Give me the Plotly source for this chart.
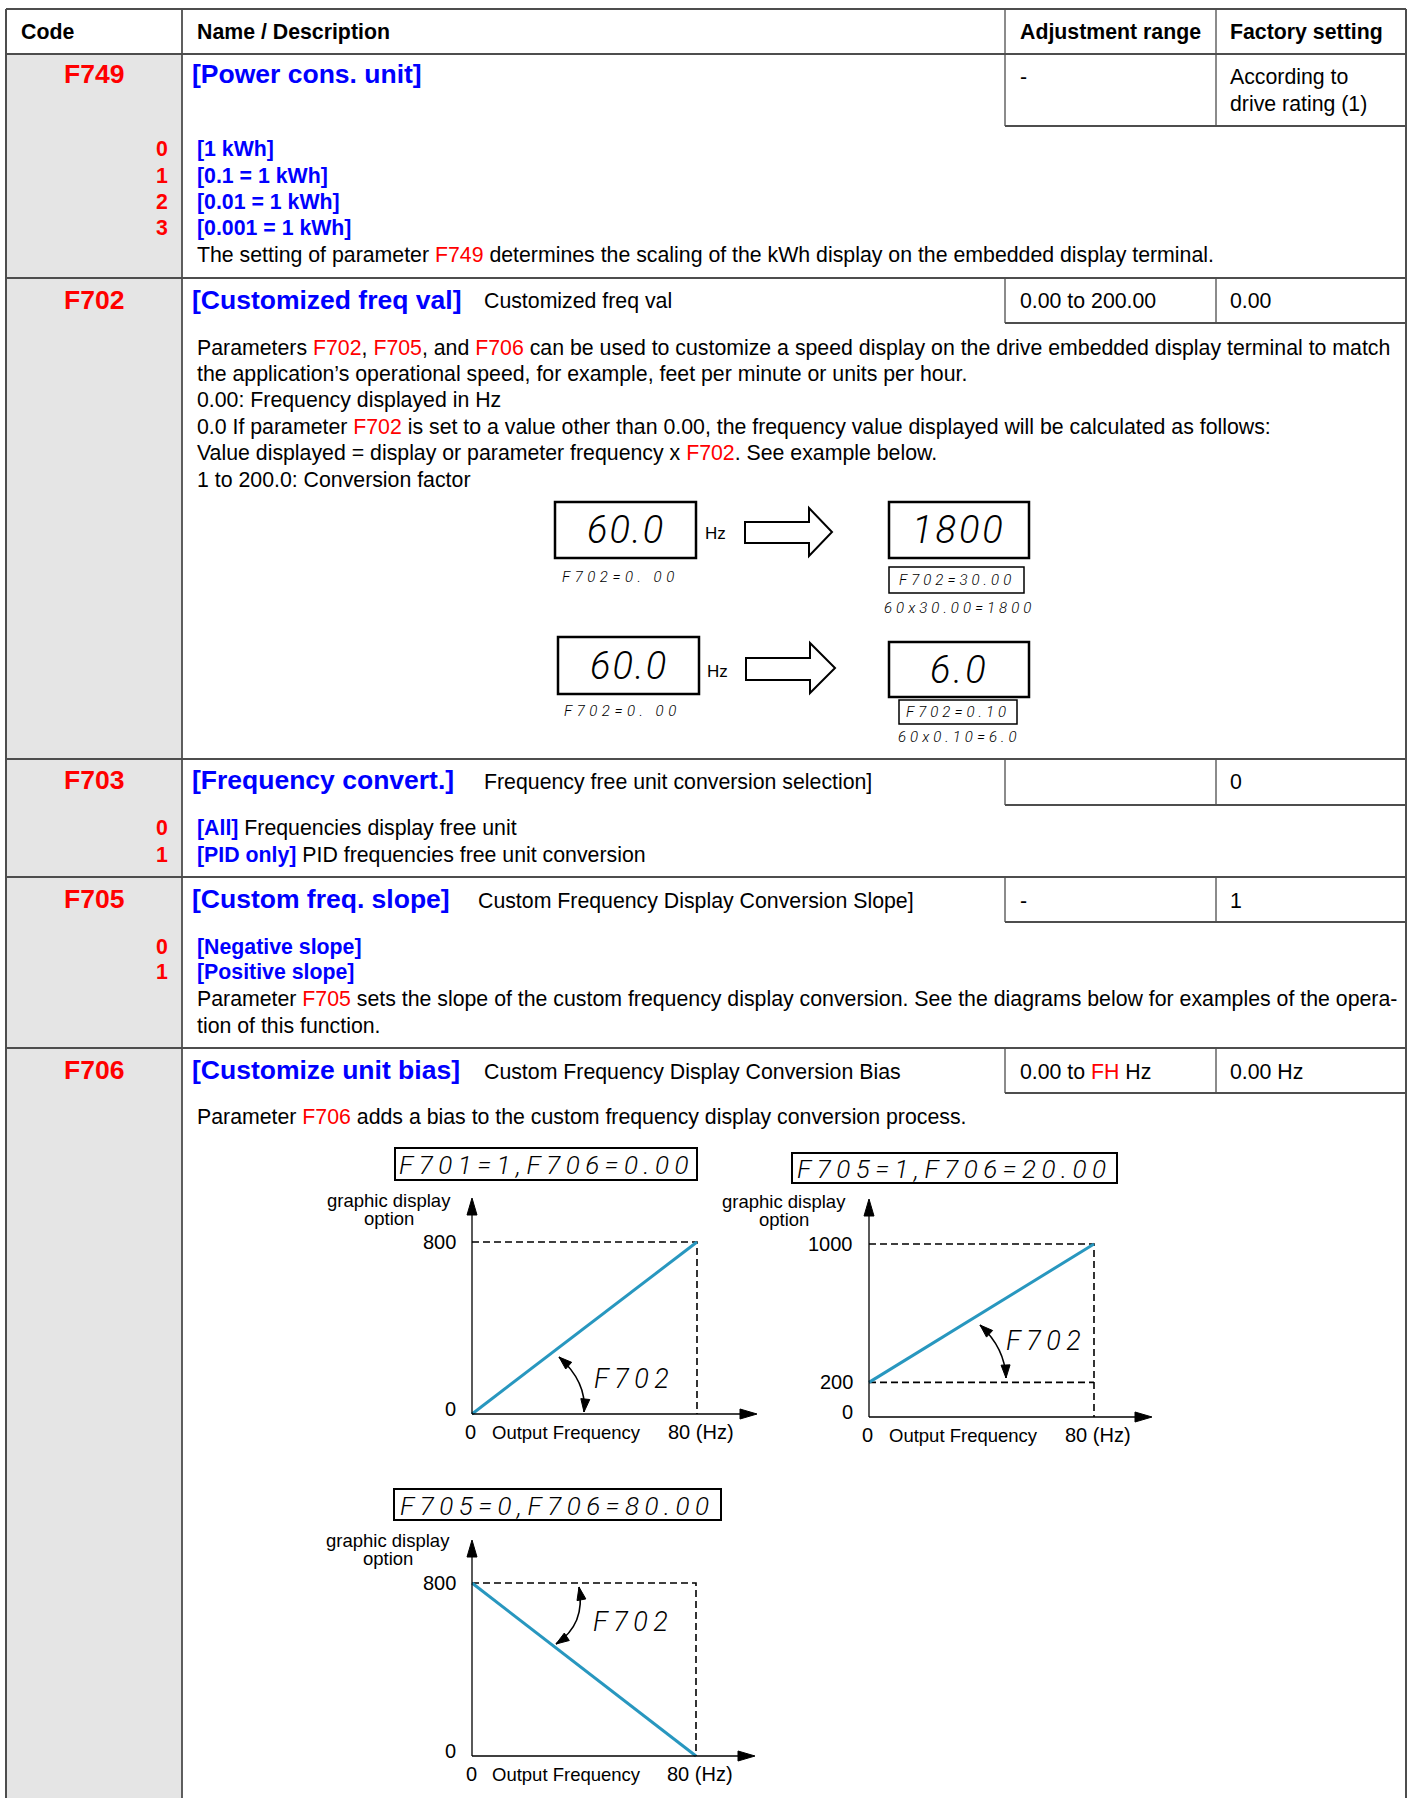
import math
import plotly.graph_objects as go

W, H = 1410, 1798
FONT = "Liberation Sans, Arial, sans-serif"
SEG = "Roboto, DejaVu Sans, sans-serif"
RED = "#ff0000"
BLUE = "#0000ff"
TEAL = "#2897bf"
GRID = "#4d4d4d"
GRAY = "#e5e5e5"
BODY = 21.3

# ---------------- data ----------------
header_labels = ["Code", "Name / Description", "Adjustment range", "Factory setting"]
codes = ["F749", "F702", "F703", "F705", "F706"]
names = ["[Power cons. unit]", "[Customized freq val]", "[Frequency convert.]",
         "[Custom freq. slope]", "[Customize unit bias]"]
subtitles = ["", "Customized freq val", "Frequency free unit conversion selection]",
             "Custom Frequency Display Conversion Slope]", "Custom Frequency Display Conversion Bias"]
adj_ranges = ["-", "0.00 to 200.00", "", "-", "0.00 to {FH} Hz"]
factory_settings = [["According to", "drive rating (1)"], ["0.00"], ["0"], ["1"], ["0.00 Hz"]]

f749_values = ["0", "1", "2", "3"]
f749_labels = ["[1 kWh]", "[0.1 = 1 kWh]", "[0.01 = 1 kWh]", "[0.001 = 1 kWh]"]
f703_values = ["0", "1"]
f703_labels = ["[All]", "[PID only]"]
f703_desc = [" Frequencies display free unit", " PID frequencies free unit conversion"]
f705_values = ["0", "1"]
f705_labels = ["[Negative slope]", "[Positive slope]"]

# display examples (F702)
display_input = ["60.0", "60.0"]
display_factor = ["30.00", "0.10"]
display_result = ["1800", "6.0"]
display_calc = ["60x30.00=1800", "60x0.10=6.0"]

# conversion charts (F705 / F706)
output_freq = [0, 80]
display_a = [0, 800]
display_b = [200, 1000]
display_c = [800, 0]
chart_titles = ["F701=1,F706=0.00", "F705=1,F706=20.00", "F705=0,F706=80.00"]
ytick_a = [0, 800]
ytick_b = [0, 200, 1000]
ytick_c = [0, 800]

# ---------------- helpers ----------------
ann = []
shapes = []


def red(s):
    return f'<span style="color:{RED}">{s}</span>'


def blue(s):
    return f'<span style="color:{BLUE}"><b>{s}</b></span>'


def T(x, y, s, size=BODY, color="black", anchor="left", bold=False, family=FONT,
      weight=None, style=None, xref="x", yref="y", xshift=0, yshift=0, yanchor="middle"):
    if bold:
        s = f"<b>{s}</b>"
    f = dict(family=family, size=size, color=color)
    if weight is not None:
        f["weight"] = weight
    if style is not None:
        f["style"] = style
    ann.append(dict(x=x, y=y, xref=xref, yref=yref, text=s, showarrow=False,
                    xanchor=anchor, yanchor=yanchor, font=f, borderpad=0,
                    xshift=xshift, yshift=yshift))


def SEGT(x, y, s, size, spacing, anchor="center", **kw):
    txt = f'<span style="letter-spacing:{spacing}px">{s}</span>'
    T(x, y, txt, size=size, family=SEG, anchor=anchor, weight=300, style="italic", **kw)


def L(x0, y0, x1, y1, w=1.5, c=GRID):
    shapes.append(dict(type="line", x0=x0, y0=y0, x1=x1, y1=y1, xref="x", yref="y",
                       line=dict(color=c, width=w)))


def R(x0, y0, x1, y1, w=2, c="black", fill=None, layer="above"):
    d = dict(type="rect", x0=x0, y0=y0, x1=x1, y1=y1, xref="x", yref="y",
             line=dict(color=c, width=w), layer=layer)
    if fill:
        d["fillcolor"] = fill
    shapes.append(d)


def P(path, fill="black", w=1.5, c="black"):
    shapes.append(dict(type="path", path=path, xref="x", yref="y",
                       fillcolor=fill, line=dict(color=c, width=w)))


def head(tx, ty, dx, dy, length=13, half=4.5):
    n = math.hypot(dx, dy)
    ux, uy = dx / n, dy / n
    bx, by = tx - ux * length, ty - uy * length
    px, py = -uy * half, ux * half
    P(f"M{tx},{ty} L{bx+px},{by+py} L{bx-px},{by-py} Z", fill="black", w=1)


def curved(p0, c, p2):
    shapes.append(dict(type="path", xref="x", yref="y",
                       path=f"M{p0[0]},{p0[1]} Q{c[0]},{c[1]} {p2[0]},{p2[1]}",
                       line=dict(color="black", width=1.6)))
    head(p0[0], p0[1], p0[0] - c[0], p0[1] - c[1])
    head(p2[0], p2[1], p2[0] - c[0], p2[1] - c[1])


# ---------------- table ----------------
R(7, 54, 182, 1798, w=0, c=GRAY, fill=GRAY, layer="below")
row_top = [54, 278, 759, 877, 1048]
sub_bottom = [126, 323, 805, 922, 1093]
L(6, 9, 1406, 9, w=2)
for y in row_top:
    L(6, y, 1406, y, w=2.2)
L(6, 9, 6, 1798, w=2)
L(1406, 9, 1406, 1798, w=2)
L(182, 9, 182, 1798, w=1.8)
for x in (1005, 1216):
    L(x, 9, x, 54, w=1.3)
    for t, b in zip(row_top, sub_bottom):
        L(x, t, x, b, w=1.3)
for b in sub_bottom:
    L(1005, b, 1406, b, w=1.8)

for x, s in zip([20, 196, 1019, 1229], header_labels):
    T(x, 32, s, bold=True)

title_y = [74, 300, 780, 899, 1070]
val_y = [77, 301, 782, 901, 1072]
sub_x = [483, 483, 483, 477, 483]
for i in range(5):
    T(94, title_y[i], codes[i], size=26.5, color=RED, bold=True, anchor="center")
    T(191, title_y[i], names[i], size=26.5, color=BLUE, bold=True)
    if subtitles[i]:
        T(sub_x[i], val_y[i], subtitles[i])
    if adj_ranges[i]:
        T(1019, val_y[i], adj_ranges[i].replace("{FH}", red("FH")))
    for k, s in enumerate(factory_settings[i]):
        T(1229, val_y[i] + 27 * k, s)

# F749 items
for y, v, s in zip([149, 176, 202, 228], f749_values, f749_labels):
    T(169, y, v, color=RED, bold=True, anchor="right")
    T(196, y, blue(s))
T(196, 255, f"The setting of parameter {red('F749')} determines the scaling of the kWh display on the embedded display terminal.")

# F702 paragraph
f702_lines = [
    f"Parameters {red('F702')}, {red('F705')}, and {red('F706')} can be used to customize a speed display on the drive embedded display terminal to match",
    "the application’s operational speed, for example, feet per minute or units per hour.",
    "0.00: Frequency displayed in Hz",
    f"0.0 If parameter {red('F702')} is set to a value other than 0.00, the frequency value displayed will be calculated as follows:",
    f"Value displayed = display or parameter frequency x {red('F702')}. See example below.",
    "1 to 200.0: Conversion factor",
]
for y, s in zip([348, 374, 400, 427, 453, 480], f702_lines):
    T(196, y, s)

# F702 display examples
big_boxes = [((555, 502, 696, 558), (889, 502, 1029, 558)),
             ((558, 637, 699, 694), (889, 642, 1029, 697))]
arrow_paths = ["M745,522 L809,522 L809,508 L832,532 L809,556 L809,543 L745,543 Z",
               "M746,658 L810,658 L810,643 L835,668 L810,693 L810,680 L746,680 Z"]
hz_pos = [(704, 533), (706, 671)]
zero_lbl = [(620, 577), (622, 711)]
fac_box = [(889, 567, 1024, 593), (899, 700, 1017, 724)]
calc_y = [608, 737]
for k in range(2):
    (a, b) = big_boxes[k]
    R(*a, w=2.5)
    R(*b, w=2.5)
    SEGT((a[0] + a[2]) / 2, (a[1] + a[3]) / 2, display_input[k], 38, 2)
    SEGT((b[0] + b[2]) / 2, (b[1] + b[3]) / 2, display_result[k], 38, 3)
    P(arrow_paths[k], fill="white", w=2)
    T(hz_pos[k][0], hz_pos[k][1], "Hz", size=17)
    SEGT(zero_lbl[k][0], zero_lbl[k][1], "F702=0. 00", 15, 4.5)
    fb = fac_box[k]
    R(*fb, w=1.5)
    SEGT((fb[0] + fb[2]) / 2, (fb[1] + fb[3]) / 2, f"F702={display_factor[k]}", 15, 4)
    SEGT(959, calc_y[k], display_calc[k], 15, 4)

T(196, 999, f"Parameter {red('F705')} sets the slope of the custom frequency display conversion. See the diagrams below for examples of the opera-")
T(196, 1026, "tion of this function.")
for y, v, s, d in zip([828, 855], f703_values, f703_labels, f703_desc):
    T(169, y, v, color=RED, bold=True, anchor="right")
    T(196, y, blue(s) + d)
for y, v, s in zip([947, 972], f705_values, f705_labels):
    T(169, y, v, color=RED, bold=True, anchor="right")
    T(196, y, blue(s))
T(196, 1117, f"Parameter {red('F706')} adds a bias to the custom frequency display conversion process.")

# ---------------- charts ----------------
traces = [go.Scatter(x=[0], y=[0], xaxis="x", yaxis="y", mode="markers",
                     marker=dict(opacity=0), hoverinfo="skip")]
layout_axes = {}


def dom(p0, p1, v0, v1, lo, hi, total, vertical=False):
    s = (p1 - p0) / (v1 - v0)
    a = p0 + (lo - v0) * s
    b = p0 + (hi - v0) * s
    if vertical:
        a, b = 1 - a / total, 1 - b / total
    else:
        a, b = a / total, b / total
    return [min(a, b), max(a, b)]


charts = [
    dict(vals=display_a, ymax=800, px0=472, px80=697, py0=1414, pyt=1242,
         box=(395, 1148, 697, 1180), ytip=1198, xtip=757, yticks=ytick_a,
         lab=(389, 1200), curve=((559, 1357), (587, 1382), (584, 1412)), seg=(593, 1379)),
    dict(vals=display_b, ymax=1000, px0=869, px80=1094, py0=1417, pyt=1244,
         box=(792, 1153, 1117, 1183), ytip=1199, xtip=1152, yticks=ytick_b,
         lab=(784, 1201), curve=((980, 1325), (1005, 1348), (1006, 1378)), seg=(1005, 1341)),
    dict(vals=display_c, ymax=800, px0=472, px80=696, py0=1756, pyt=1583,
         box=(394, 1489, 721, 1520), ytip=1540, xtip=755, yticks=ytick_c,
         lab=(388, 1540), curve=((579, 1587), (586, 1624), (556, 1644)), seg=(592, 1622)),
]

for i, ch in enumerate(charts):
    n = i + 2
    xa, ya = f"x{n}", f"y{n}"
    xr = [-5, 85]
    yr = [-ch["ymax"] * 0.05, ch["ymax"] * 1.05]
    layout_axes[f"xaxis{n}"] = dict(domain=dom(ch["px0"], ch["px80"], 0, 80, xr[0], xr[1], W),
                                    range=xr, visible=False, anchor=ya, fixedrange=True)
    layout_axes[f"yaxis{n}"] = dict(domain=dom(ch["py0"], ch["pyt"], 0, ch["ymax"], yr[0], yr[1], H, True),
                                    range=yr, visible=False, anchor=xa, fixedrange=True)
    top = max(ch["vals"])
    traces.append(go.Scatter(x=[output_freq[0], output_freq[1], output_freq[1]], y=[top, top, 0],
                             xaxis=xa, yaxis=ya, mode="lines", hoverinfo="skip",
                             line=dict(color="black", width=1.6, dash="7px,4px")))
    if min(ch["vals"]) > 0:
        low = min(ch["vals"])
        traces.append(go.Scatter(x=output_freq, y=[low, low], xaxis=xa, yaxis=ya, mode="lines",
                                 hoverinfo="skip", line=dict(color="black", width=1.6, dash="7px,4px")))
    traces.append(go.Scatter(x=output_freq, y=ch["vals"], xaxis=xa, yaxis=ya, mode="lines",
                             hoverinfo="skip", line=dict(color=TEAL, width=3)))
    x0, y0 = ch["px0"], ch["py0"]
    L(x0, y0, x0, ch["ytip"] + 10, w=1.3, c="black")
    L(x0, y0, ch["xtip"] - 10, y0, w=1.3, c="black")
    head(x0, ch["ytip"], 0, -1, length=17, half=5)
    head(ch["xtip"], y0, 1, 0, length=17, half=5)
    bx = ch["box"]
    R(*bx, w=2)
    SEGT((bx[0] + bx[2]) / 2, (bx[1] + bx[3]) / 2 + 1, chart_titles[i], 26, 5.5)
    T(ch["lab"][0], ch["lab"][1], "graphic display", size=18.5, anchor="center")
    T(ch["lab"][0], ch["lab"][1] + 18, "option", size=18.5, anchor="center")
    for v in ch["yticks"]:
        T(0, v, str(v), size=20, anchor="right", xref=xa, yref=ya, xshift=-15,
          yshift=5 if v == 0 else 0)
    T(0, 0, "0", size=20, anchor="center", xref=xa, yref=ya, yshift=-18, xshift=-1)
    T(40, 0, "Output Frequency", size=18.5, anchor="center", xref=xa, yref=ya, yshift=-18, xshift=-18)
    T(80, 0, "80 (Hz)", size=20, anchor="center", xref=xa, yref=ya, yshift=-18, xshift=4)
    curved(*ch["curve"])
    SEGT(ch["seg"][0], ch["seg"][1], "F702", 27, 5.5, anchor="left")

fig = go.Figure(traces)
fig.update_layout(
    width=W, height=H, margin=dict(l=0, r=0, t=0, b=0),
    paper_bgcolor="white", plot_bgcolor="rgba(0,0,0,0)", showlegend=False,
    xaxis=dict(range=[0, W], domain=[0, 1], visible=False, fixedrange=True),
    yaxis=dict(range=[H, 0], domain=[0, 1], visible=False, fixedrange=True),
    annotations=ann, shapes=shapes, **layout_axes,
)
fig.write_html("out.html", config={"displayModeBar": False},
               post_script="document.body.style.margin='0px';")
